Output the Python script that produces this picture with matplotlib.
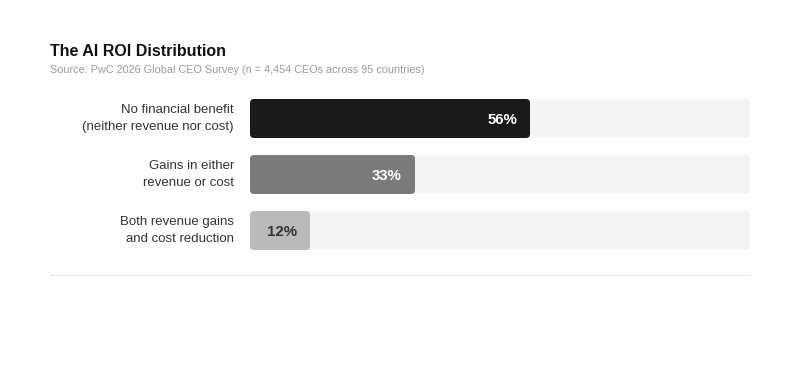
import matplotlib

matplotlib.use("Agg")
import matplotlib.pyplot as plt
from matplotlib.patches import FancyBboxPatch
from matplotlib.lines import Line2D

plt.rcParams.update({"font.family": ["Liberation Sans", "DejaVu Sans"]})

categories = [
    "No financial benefit\n(neither revenue nor cost)",
    "Gains in either\nrevenue or cost",
    "Both revenue gains\nand cost reduction",
]
values = [56, 33, 12]
bar_colors = ["#1a1a1a", "#7a7a7a", "#bababa"]
value_colors = ["white", "white", "#333333"]
value_labels = ["56%", "33%", "12%"]

W, H = 800, 380
fig = plt.figure(figsize=(W / 100, H / 100), dpi=100)

# axes covers the track area: x 250..750 px, one category per 56 px
top, bottom = 90.5, 258.5
ax = fig.add_axes([250 / W, 1 - bottom / H, 500 / W, (bottom - top) / H])
ax.set_xlim(0, 100)
ax.set_ylim(2.5, -0.5)
ax.axis("off")

bar_h = 39 / 56
px_x = 100 / 500
aspect = (1 / 56) / px_x
r = 4 * px_x

for i, (v, c, tc, lab) in enumerate(zip(values, bar_colors, value_colors, value_labels)):
    track = FancyBboxPatch((0, i - bar_h / 2), 100, bar_h,
                           boxstyle=f"round,pad=0,rounding_size={r}",
                           mutation_aspect=aspect, fc="#f4f4f4", ec="none")
    ax.add_patch(track)
    bar = FancyBboxPatch((0, i - bar_h / 2), v, bar_h,
                         boxstyle=f"round,pad=0,rounding_size={r}",
                         mutation_aspect=aspect, fc=c, ec="none")
    ax.add_patch(bar)
    ax.text(v - 13 * px_x, i + 0.02, lab, ha="right", va="center",
            fontsize=10.8, fontweight="bold", color=tc)
    ax.text(-16 * px_x, i, categories[i], ha="right", va="center",
            fontsize=9.5, color="#333333", linespacing=1.45)

fig.text(50 / W, 1 - 56 / H, "The AI ROI Distribution", fontsize=11.5,
         fontweight="bold", color="#111111", ha="left", va="baseline")
fig.text(50 / W, 1 - 73 / H,
         "Source: PwC 2026 Global CEO Survey (n = 4,454 CEOs across 95 countries)",
         fontsize=7.8, color="#999999", ha="left", va="baseline")

fig.add_artist(Line2D([50 / W, 750 / W], [1 - 275 / H, 1 - 275 / H],
                      color="#e6e6e6", lw=0.8, transform=fig.transFigure))

fig.savefig("out.png", dpi=100, facecolor="white")
